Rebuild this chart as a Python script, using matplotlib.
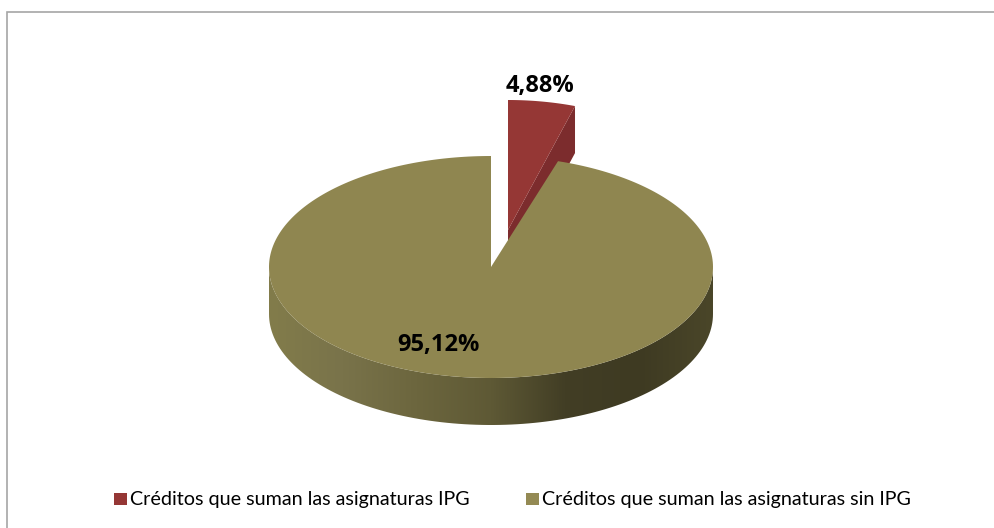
import matplotlib
matplotlib.use("Agg")
import matplotlib.pyplot as plt
import numpy as np
from matplotlib.colors import LinearSegmentedColormap
from matplotlib.patches import Polygon, Rectangle

categories = ["Créditos que suman las asignaturas IPG", "Créditos que suman las asignaturas sin IPG"]
shares = [4.88, 95.12]
share_labels = ["4,88%", "95,12%"]

RED = "#953735"
RED_DARK = "#7c2c2d"
OLIVE = "#8f8650"
OLIVE_LEGEND = "#948a54"

cx, cy, rx, ry, depth = 491, 267, 222, 111, 47
red_apex = (508, 230)
red_ry = 130


def rim(a, x0=cx, y0=cy, b=ry):
    # angles clockwise from the top, ellipse because of the tilt
    return np.column_stack([x0 + rx * np.sin(a), y0 - b * np.cos(a)])


split = 2 * np.pi * shares[0] / sum(shares)

fig = plt.figure(figsize=(9.95, 5.28), dpi=100)
ax = fig.add_axes([0, 0, 1, 1])
ax.set_xlim(0, 995)
ax.set_ylim(528, 0)
ax.axis("off")

# frame runs off the image on the right and at the bottom
ax.add_patch(Rectangle((6.5, 11.5), 1010, 540, fc="white", ec="#a6a6a6", lw=1.2, zorder=0))

# red slice, pulled out of the pie
red_arc = rim(np.linspace(0, split, 40), red_apex[0], red_apex[1], red_ry)
ax.add_patch(Polygon([red_apex, red_arc[-1], red_arc[-1] + [0, depth], (red_apex[0], red_apex[1] + depth)],
                     fc=RED_DARK, ec="none", zorder=1))
ax.add_patch(Polygon(np.vstack([red_apex, red_arc]), fc=RED, ec="none", zorder=1))

# side wall of the olive slice
low = np.linspace(np.pi / 2, 3 * np.pi / 2, 120)
wall = np.vstack([rim(low), rim(low[::-1], cx, cy + depth)])
wall_patch = Polygon(wall, fc="none", ec="none")
ax.add_patch(wall_patch)
cmap = LinearSegmentedColormap.from_list(
    "wall", ["#827c4b", "#79734a", "#6c663e", "#5e5935", "#423e25", "#3e3a22", "#4a4629"])
img = ax.imshow(np.linspace(0, 1, 256).reshape(1, -1), cmap=cmap, aspect="auto", zorder=2,
                extent=(cx - rx, cx + rx, cy + ry + depth, cy - ry))
img.set_clip_path(wall_patch)
ax.set_xlim(0, 995)
ax.set_ylim(528, 0)

# olive top
olive_arc = rim(np.linspace(split, 2 * np.pi, 300))
ax.add_patch(Polygon(np.vstack([(cx, cy), olive_arc]), fc=OLIVE, ec="none", zorder=3))

ax.text(540.5, 86, share_labels[0], ha="center", va="center", fontsize=17, fontweight="bold",
        family="Open Sans", color="black", zorder=4)
ax.text(438, 345, share_labels[1], ha="center", va="center", fontsize=17, fontweight="bold",
        family="Open Sans", color="black", zorder=4)

# legend
legend_x = [114, 526]
legend_colors = [RED, OLIVE_LEGEND]
for x, name, col in zip(legend_x, categories, legend_colors):
    ax.add_patch(Rectangle((x, 493), 12.5, 12, fc=col, ec="none", zorder=4))
    ax.text(x + 16.5, 499, name, ha="left", va="center", fontsize=14.2, family="Lato", color="black", zorder=4)

fig.savefig("out.png", dpi=100)
